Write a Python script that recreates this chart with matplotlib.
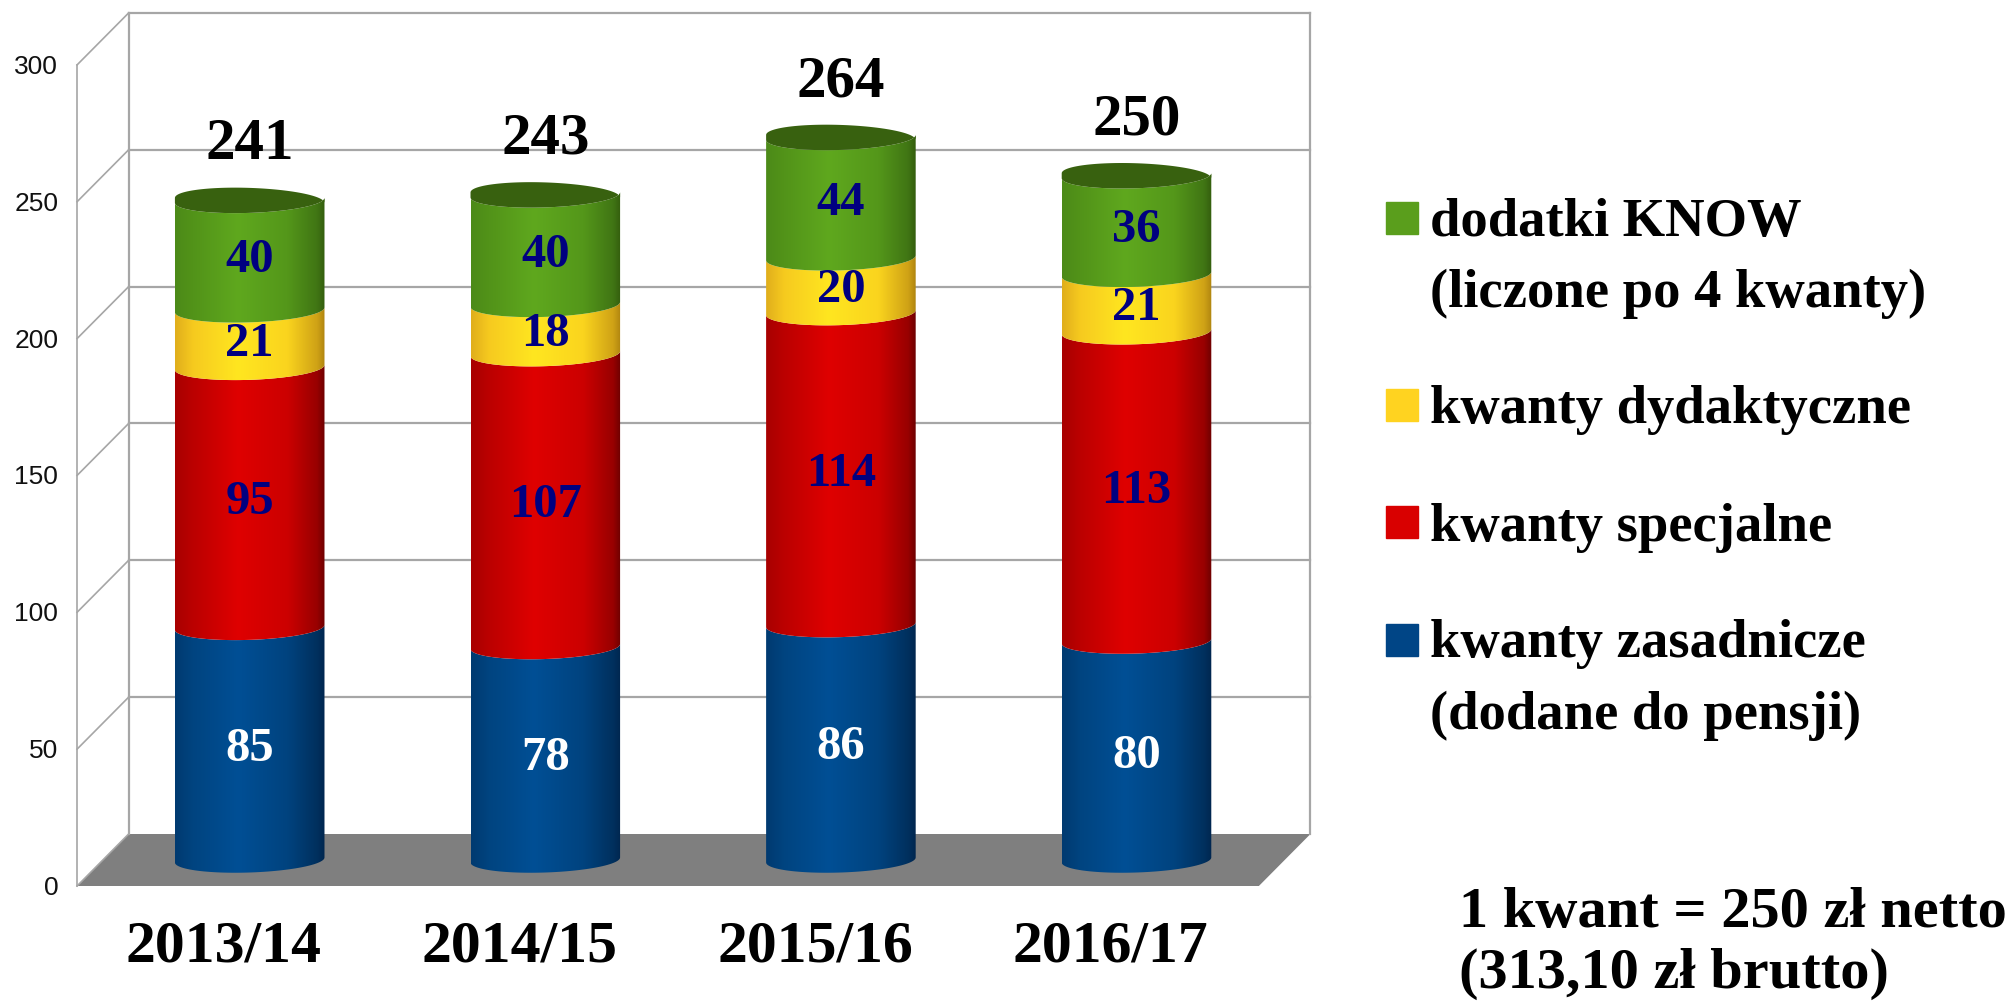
import numpy as np
import matplotlib
matplotlib.use('Agg')
import matplotlib.pyplot as plt
from matplotlib.colors import LinearSegmentedColormap
from matplotlib.patches import PathPatch, Polygon, Rectangle
from matplotlib.path import Path

years = ['2013/14', '2014/15', '2015/16', '2016/17']
zasadnicze = [85, 78, 86, 80]
specjalne = [95, 107, 114, 113]
dydaktyczne = [21, 18, 20, 21]
know = [40, 40, 44, 36]
totals = [241, 243, 264, 250]
y_ticks = [0, 50, 100, 150, 200, 250, 300]

W, H = 2014, 1002
SERIF = 'Liberation Serif'

# pixel geometry of the pseudo 3d chart
x_step = 295.6      # px per category
x_first = 249.7     # px of first bar centre
y_base = 860.0      # px of value 0 at bar depth
y_unit = 2.737      # px per value
bar_w = 0.506
dx = 51.6 / x_step  # wall depth
dy = 26.0 / y_unit
cap_h = 12.5 / y_unit
tilt = 2.5 / y_unit
x_left = -0.584
x_right = 3.414
text_drop = 5 / y_unit  # centre of digits sits a bit under the va='center' box

fig = plt.figure(figsize=(W / 100, H / 100), dpi=100)
ax = fig.add_axes([0, 0, 1, 1])
ax.axis('off')

grid = '#a6a6a6'
# floor
ax.add_patch(Polygon([(x_left, -dy), (x_right, -dy), (x_right + dx, dy), (x_left + dx, dy)],
                     facecolor='#7f7f7f', edgecolor='none', zorder=1))
# walls
for v in y_ticks:
    if v > 0:
        ax.plot([x_left + dx, x_right + dx], [v + dy, v + dy], color=grid, lw=1.6, zorder=1)
    ax.plot([x_left, x_left + dx], [v - dy, v + dy], color=grid, lw=1.2, zorder=1)
    ax.text(x_left - 0.064, v - dy - 2 / y_unit, str(v), ha='right', va='center', fontsize=19,
            family='Liberation Sans', color='#111111')
ax.plot([x_left, x_left], [-dy, 300 - dy], color=grid, lw=1.2, zorder=1)
for xb in [x_left + dx, x_right + dx]:
    ax.plot([xb, xb], [dy, 300 + dy], color=grid, lw=1.6, zorder=1)


def arc(cx, v, reverse=False):
    t = np.linspace(np.pi, 2 * np.pi, 60)
    if reverse:
        t = t[::-1]
    return np.column_stack([cx + bar_w / 2 * np.cos(t), v + cap_h * np.sin(t) + tilt * np.cos(t)])


def segment(cx, v0, v1, stops):
    pts = np.vstack([arc(cx, v0), arc(cx, v1, reverse=True)])
    patch = PathPatch(Path(np.vstack([pts, pts[0]]), closed=True), facecolor='none', edgecolor='none', zorder=3)
    ax.add_patch(patch)
    cmap = LinearSegmentedColormap.from_list('c', stops)
    img = ax.imshow(np.linspace(0, 1, 256).reshape(1, -1), cmap=cmap, aspect='auto', zorder=3,
                    extent=[cx - bar_w / 2, cx + bar_w / 2, v0 - cap_h - 2, v1 + cap_h + 2],
                    interpolation='bilinear')
    img.set_clip_path(patch)


series = [zasadnicze, specjalne, dydaktyczne, know]
label_colors = ['white', '#000080', '#000080', '#000080']
ramps = [
    [(0, '#003a70'), (0.12, '#004480'), (0.42, '#004f95'), (0.75, '#00437f'), (0.95, '#00305e'), (1, '#00264f')],
    [(0, '#a80000'), (0.12, '#bb0000'), (0.42, '#df0000'), (0.75, '#cc0000'), (0.95, '#980000'), (1, '#6e0000')],
    [(0, '#e0ae1c'), (0.12, '#f6ca1f'), (0.42, '#ffe620'), (0.75, '#fad41e'), (0.95, '#cfa216'), (1, '#b08510')],
    [(0, '#4c8a18'), (0.12, '#529319'), (0.42, '#5fa81e'), (0.75, '#54971a'), (0.95, '#407514'), (1, '#345e0e')],
]

for i, year in enumerate(years):
    bottom = 0
    for vals, ramp, col in zip(series, ramps, label_colors):
        top = bottom + vals[i]
        segment(i, bottom, top, ramp)
        ax.text(i, (bottom + top) / 2 - text_drop, str(vals[i]), ha='center', va='center', fontsize=35,
                family=SERIF, weight='bold', color=col, zorder=5)
        bottom = top
    # cap
    low = arc(i, bottom)
    up = low.copy()
    up[:, 1] = 2 * bottom - low[:, 1]
    ax.add_patch(Polygon(np.vstack([low, up[::-1]]), closed=True, facecolor='#38610f',
                         edgecolor='none', zorder=4))
    ax.text(i, totals[i] + 22 - text_drop, str(totals[i]), ha='center', va='center', fontsize=42.5,
            family=SERIF, weight='bold', color='black', zorder=5)
    ax.text(i - 26 / x_step, -30 - text_drop, year, ha='center', va='center', fontsize=43,
            family=SERIF, weight='bold', color='black')

ax.set_xlim(-x_first / x_step, (W - x_first) / x_step)
ax.set_ylim((y_base - H) / y_unit, y_base / y_unit)

# legend block, placed in figure pixels
legend_colors = ['#5a9e1c', '#ffd320', '#d90000', '#004586']
legend_tops = [202, 389, 506, 624]
legend_lines = [
    [('dodatki KNOW', 236), ('(liczone po 4 kwanty)', 307)],
    [('kwanty dydaktyczne', 423)],
    [('kwanty specjalne', 541)],
    [('kwanty zasadnicze', 657), ('(dodane do pensji)', 729)],
]
for color, top, lines in zip(legend_colors, legend_tops, legend_lines):
    fig.add_artist(Rectangle((1386 / W, 1 - (top + 32) / H), 32 / W, 32 / H, color=color,
                             transform=fig.transFigure))
    for txt, base in lines:
        fig.text(1430 / W, 1 - base / H, txt, fontsize=39.3, family=SERIF, weight='bold',
                 ha='left', va='baseline', color='black')

fig.text(1459 / W, 1 - 927 / H, '1 kwant = 250 zł netto', fontsize=42, family=SERIF, weight='bold',
         ha='left', va='baseline')
fig.text(1459 / W, 1 - 988 / H, '(313,10 zł brutto)', fontsize=42, family=SERIF, weight='bold',
         ha='left', va='baseline')

plt.savefig('out.png', dpi=100)
